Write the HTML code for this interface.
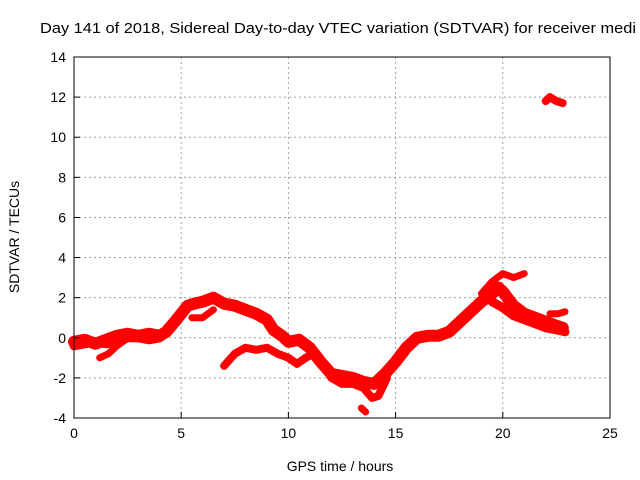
<!DOCTYPE html>
<html><head><meta charset="utf-8"><style>
body{margin:0;background:#fff;}
svg{display:block;font-family:"Liberation Sans",sans-serif;}
</style></head><body>
<svg id="chart" width="640" height="480" viewBox="0 0 640 480">
<text x="40" y="33" font-size="15" textLength="596" lengthAdjust="spacingAndGlyphs" fill="#000">Day 141 of 2018, Sidereal Day-to-day VTEC variation (SDTVAR) for receiver medi</text>
<g id="grid"></g>
<g id="series"></g>
<rect x="74" y="57" width="536" height="361" fill="none" stroke="#000" stroke-width="1"/>
<g id="ticks"></g>
<text x="340" y="471" font-size="14" text-anchor="middle">GPS time / hours</text>
<text transform="translate(19,237) rotate(-90)" font-size="14" text-anchor="middle">SDTVAR / TECUs</text>
</svg>
<script>
const xTicks=[0,5,10,15,20,25];
const yTicks=[-4,-2,0,2,4,6,8,10,12,14];
const trackA_x=[0,0.5,1,1.5,2,2.5,3,3.5,4,4.3,4.7,5,5.3,5.6,6,6.5,7,7.5,8,8.5,9,9.3,9.7,10,10.5,11,11.5,12,12.5,13,13.5,14,14.5,15,15.5,16,16.5,17,17.5,18,18.5,19,19.5,19.8,20,20.5,21,21.5,22,22.5,22.8];
const trackA_y=[-0.2,-0.1,-0.3,-0.1,0.1,0.2,0.1,0.2,0.1,0.3,0.8,1.2,1.6,1.7,1.8,2.0,1.7,1.6,1.4,1.2,0.9,0.4,0.1,-0.2,-0.1,-0.5,-1.2,-1.8,-1.9,-2.0,-2.2,-2.3,-1.8,-1.2,-0.5,0.0,0.1,0.1,0.3,0.8,1.3,1.8,2.2,2.5,2.3,1.6,1.2,1.0,0.8,0.6,0.5];
const trackA2_x=[0,0.5,1,1.5,2,2.5,3,3.5,4];
const trackA2_y=[-0.4,-0.3,-0.2,-0.3,-0.2,0.0,0.0,-0.1,0.0];
const trackB_x=[7,7.5,8,8.5,9,9.5,10,10.4,10.8,11.2,11.6,12,12.5,13,13.5,13.9,14.2,14.6];
const trackB_y=[-1.4,-0.8,-0.5,-0.6,-0.5,-0.8,-1.0,-1.3,-1.0,-0.8,-1.3,-2.0,-2.3,-2.3,-2.5,-3.0,-2.9,-2.0];
const trackC_x=[1.2,1.6,2.0,2.4];
const trackC_y=[-1.0,-0.8,-0.4,-0.1];
const trackD_x=[5.5,6.0,6.5];
const trackD_y=[1.0,1.0,1.4];
const trackE_x=[19.0,19.5,20.0,20.5,21.0];
const trackE_y=[2.2,2.8,3.2,3.0,3.2];
const trackF_x=[19.5,20.0,20.5,21.0,21.5,22.0,22.5,22.9];
const trackF_y=[1.8,1.5,1.1,0.9,0.7,0.5,0.4,0.3];
const trackG_x=[22.0,22.2,22.5,22.8];
const trackG_y=[11.8,12.0,11.8,11.7];
const trackH_x=[13.4,13.6];
const trackH_y=[-3.5,-3.7];
const trackI_x=[22.2,22.6,22.9];
const trackI_y=[1.2,1.2,1.3];

const X0=74,X1=610,Y0=418,Y1=57;
const sx=v=>X0+(v-0)/25*(X1-X0);
const sy=v=>Y0-(v+4)/18*(Y0-Y1);
const NS="http://www.w3.org/2000/svg";
const grid=document.getElementById('grid'),ticks=document.getElementById('ticks'),series=document.getElementById('series');
function mk(tag,attrs,parent){const e=document.createElementNS(NS,tag);for(const k in attrs)e.setAttribute(k,attrs[k]);parent.appendChild(e);return e;}
xTicks.forEach(t=>{const x=sx(t);
 if(t>0&&t<25){const g=mk('line',{x1:x,x2:x,y1:Y1,y2:Y0,stroke:'#a0a0a0','stroke-dasharray':'2,3'},grid);
 
 }
 const tk=mk('line',{x1:x,x2:x,y1:Y0,y2:Y0-6,stroke:'#000'},ticks);
 
 
 const l=mk('text',{x:x,y:Y0+20,'font-size':14,'text-anchor':'middle'},ticks);l.textContent=t;
 
 
});
yTicks.forEach(t=>{const y=sy(t);
 if(t>-4&&t<14){const g=mk('line',{x1:X0,x2:X1,y1:y,y2:y,stroke:'#a0a0a0','stroke-dasharray':'2,3'},grid);
 
 }
 const tk=mk('line',{x1:X0,x2:X0+6,y1:y,y2:y,stroke:'#000'},ticks);
 
 
 const l=mk('text',{x:X0-8,y:y+5,'font-size':14,'text-anchor':'end'},ticks);l.textContent=t;
 
 
});
const tracks=[[trackA_x,trackA_y,12],[trackA2_x,trackA2_y,9],[trackB_x,trackB_y,8],[trackC_x,trackC_y,7],[trackD_x,trackD_y,7],[trackE_x,trackE_y,7],[trackF_x,trackF_y,9],[trackG_x,trackG_y,8],[trackH_x,trackH_y,7],[trackI_x,trackI_y,7]];
tracks.forEach((tr,i)=>{
 const pts=tr[0].map((x,j)=>sx(x).toFixed(1)+','+sy(tr[1][j]).toFixed(1)).join(' ');
 const p=mk('polyline',{points:pts,fill:'none',stroke:'#ff0000','stroke-width':tr[2],'stroke-linejoin':'round','stroke-linecap':'round'},series);
 
 
});
</script>
</body></html>
